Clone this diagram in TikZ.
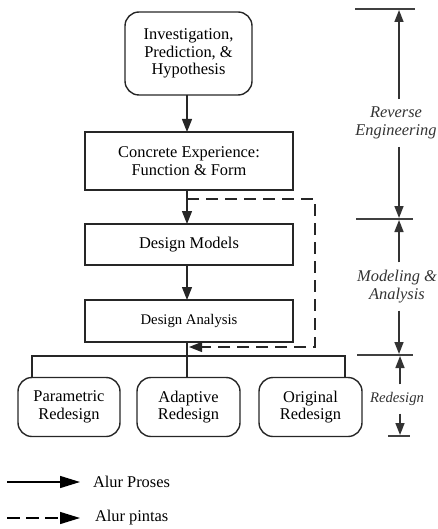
\documentclass[tikz,border=0pt]{standalone}
\usepackage{fontspec}
\setmainfont{Liberation Serif}
\usetikzlibrary{arrows.meta}
\begin{document}
\begin{tikzpicture}[x=1pt,y=-1pt,
  every node/.style={inner sep=0pt, outer sep=0pt},
  box/.style={draw=black!85, line width=1.4pt, align=center, font=\fontsize{16.4}{17.5}\selectfont},
  rbox/.style={box, rounded corners=14pt},
  lbl/.style={align=center, font=\fontsize{16.4}{17.5}\selectfont\itshape, text=black!80},
  flow/.style={draw=black!85, line width=1.4pt, -{Triangle[length=13pt,width=10pt]}},
  plain/.style={draw=black!85, line width=1.4pt},
  dashflow/.style={flow, dash pattern=on 12pt off 7pt},
  scalearrow/.style={draw=black!80, line width=1.6pt, -{Triangle[length=12pt,width=9pt]}},
  bar/.style={draw=black!75, line width=1.4pt}
]
\useasboundingbox (0,0) rectangle (438,529);

\coordinate (cx) at (187,0);
\coordinate (sx) at (399,0);
\coordinate (rx) at (400,0);

% main column
\node[rbox, minimum width=127pt, minimum height=83pt] (inv) at (188.5,53.5) {Investigation,\\Prediction, \&\\Hypothesis};
\node[box, minimum width=208pt, minimum height=58pt] (ce) at (189,161) {Concrete Experience:\\Function \& Form};
\node[box, minimum width=208pt, minimum height=41pt] (dm) at (189,244.5) {Design Models};
\node[box, minimum width=208pt, minimum height=42pt, font=\fontsize{14.7}{16}\selectfont] (da) at (189,321) {Design Analysis};

\draw[flow] (inv.south -| cx) -- (ce.north -| cx);
\draw[flow] (ce.south -| cx) -- (dm.north -| cx);
\draw[flow] (dm.south -| cx) -- (da.north -| cx);

% dashed feedback
\coordinate (ds) at (187,199);
\coordinate (dr1) at (315,199);
\coordinate (dr2) at (315,347);
\coordinate (de) at (189,347);
\draw[dashflow] (ds) -- (dr1) -- (dr2) -- (de);

% redesign boxes
\node[rbox, minimum width=102pt, minimum height=59pt] (par) at (69,407) {Parametric\\Redesign};
\node[rbox, minimum width=103pt, minimum height=59pt] (ada) at (188.5,407) {Adaptive\\Redesign};
\node[rbox, minimum width=103pt, minimum height=59pt] (ori) at (310.5,407) {Original\\Redesign};

\coordinate (hl) at (32,356);
\coordinate (hr) at (345,356);
\draw[plain] (da.south -| cx) -- (ada.north -| cx);
\draw[plain] (par.north -| hl) -- (hl) -- (hr) -- (ori.north -| hr);

% right scale
\coordinate (b1l) at (355,9);   \coordinate (b1r) at (415,9);
\coordinate (b2l) at (356,219); \coordinate (b2r) at (413,219);
\coordinate (b3l) at (357,355); \coordinate (b3r) at (413,355);
\coordinate (b4l) at (388,436); \coordinate (b4r) at (410,436);
\draw[bar] (b1l) -- (b1r);
\draw[bar] (b2l) -- (b2r);
\draw[bar] (b3l) -- (b3r);
\draw[bar] (b4l) -- (b4r);

\node[lbl] (re) at (396,123) {Reverse\\Engineering};
\node[lbl] (ma) at (397,286.5) {Modeling \&\\Analysis};
\node[lbl, font=\fontsize{14.7}{16}\selectfont\itshape] (rd) at (397,399) {Redesign};

\draw[scalearrow] ([yshift=8pt]re.north -| sx) -- ([yshift=-1pt]b1l -| sx);
\draw[scalearrow] ([yshift=-8pt]re.south -| sx) -- ([yshift=1pt]b2l -| sx);
\draw[scalearrow] ([yshift=8pt]ma.north -| sx) -- ([yshift=-1pt]b2l -| sx);
\draw[scalearrow] ([yshift=-8pt]ma.south -| sx) -- ([yshift=1pt]b3l -| sx);
\draw[scalearrow] ([yshift=8pt]rd.north -| rx) -- ([yshift=-1pt]b3l -| rx);
\draw[scalearrow] ([yshift=-8pt]rd.south -| rx) -- ([yshift=1pt]b4l -| rx);

% legend
\coordinate (l1a) at (7,482);  \coordinate (l1b) at (80,482);
\coordinate (l2a) at (7,518);  \coordinate (l2b) at (80,518);
\draw[draw=black, line width=1.4pt, -{Triangle[length=20pt,width=12pt]}] (l1a) -- (l1b);
\draw[draw=black, line width=1.4pt, dash pattern=on 13pt off 6pt, -{Triangle[length=20pt,width=12pt]}] (l2a) -- (l2b);
\node[anchor=west, font=\fontsize{16.4}{17.5}\selectfont] (lp) at (93,482) {Alur Proses};
\node[anchor=west, font=\fontsize{16.4}{17.5}\selectfont] (lq) at (95,518) {Alur pintas};
\end{tikzpicture}
\end{document}
